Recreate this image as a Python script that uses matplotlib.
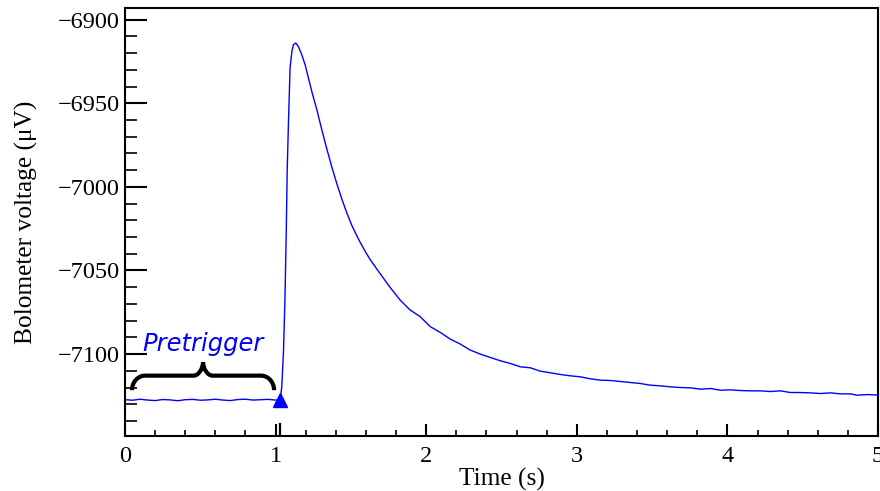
import matplotlib.pyplot as plt
from matplotlib.path import Path
from matplotlib.patches import PathPatch
from matplotlib.ticker import MultipleLocator
import matplotlib.transforms as mtransforms

# bolometer pulse, time in s, voltage in uV
time_s = [
    0.00, 0.05, 0.10, 0.15, 0.20, 0.25, 0.30, 0.35, 0.40, 0.45,
    0.50, 0.55, 0.60, 0.65, 0.70, 0.75, 0.80, 0.85, 0.90, 0.95,
    1.00, 1.030, 1.041, 1.052, 1.062, 1.071, 1.077, 1.085, 1.096, 1.108,
    1.118, 1.134, 1.151, 1.174, 1.196, 1.218, 1.245, 1.274, 1.307, 1.340,
    1.373, 1.407, 1.440, 1.473, 1.506, 1.550, 1.595, 1.628, 1.683, 1.761,
    1.827, 1.894, 1.960, 2.027, 2.093, 2.159, 2.226, 2.292, 2.359, 2.425,
    2.492, 2.558, 2.625, 2.691, 2.757, 2.824, 2.890, 2.957, 3.023, 3.090,
    3.156, 3.223, 3.289, 3.355, 3.422, 3.488, 3.555, 3.621, 3.688, 3.754,
    3.821, 3.887, 3.953, 4.020, 4.086, 4.153, 4.219, 4.286, 4.352, 4.419,
    4.485, 4.551, 4.618, 4.684, 4.751, 4.817, 4.862, 4.928, 5.000,
]
voltage_uv = [
    -7127.3, -7127.6, -7127.0, -7127.5, -7127.8, -7127.2, -7127.4, -7127.9, -7127.3, -7127.1,
    -7127.6, -7127.4, -7127.0, -7127.5, -7127.8, -7127.2, -7127.0, -7127.5, -7127.3, -7127.1,
    -7127.5, -7127.6, -7119.6, -7099.4, -7067.7, -7025.7, -6990.0, -6962.9, -6928.9, -6919.0,
    -6915.0, -6914.0, -6916.0, -6921.0, -6926.9, -6934.9, -6944.5, -6953.9, -6965.9, -6977.3,
    -6988.0, -6998.2, -7007.3, -7015.6, -7023.0, -7031.2, -7038.6, -7043.5, -7050.5, -7060.2,
    -7067.7, -7073.7, -7077.6, -7083.6, -7087.0, -7091.0, -7094.0, -7097.6, -7100.0, -7102.0,
    -7104.0, -7105.6, -7107.6, -7108.2, -7110.2, -7111.2, -7112.2, -7113.0, -7113.6, -7114.8,
    -7115.6, -7115.8, -7116.4, -7117.0, -7117.6, -7118.6, -7119.0, -7119.6, -7120.0, -7120.2,
    -7121.0, -7120.6, -7121.6, -7121.4, -7121.8, -7122.0, -7122.0, -7122.4, -7122.0, -7123.0,
    -7123.0, -7123.2, -7123.6, -7123.2, -7123.8, -7123.8, -7124.6, -7124.2, -7124.5,
]

trigger_time = 1.03
trigger_level = -7127.6
pretrigger_span = (0.0465, 0.990)

plt.rcParams['font.family'] = 'Liberation Serif'
plt.rcParams['font.size'] = 17.5

fig = plt.figure(figsize=(8.8, 4.91), dpi=100)
ax = fig.add_axes([125 / 880, 1 - 436 / 491, 753 / 880, 428 / 491])

ax.plot(time_s, voltage_uv, color='blue', lw=1.0)
ax.plot(trigger_time, trigger_level, marker='^', color='blue', markersize=10, clip_on=False)

# short mark on the time axis at the trigger
trans = mtransforms.blended_transform_factory(ax.transData, ax.transAxes)
ax.plot([trigger_time, trigger_time], [0, 12 / 428], color='black', lw=1.6, transform=trans)

# curly brace over the pretrigger window
x0, x1 = pretrigger_span
xc = 0.5 * (x0 + x1)
y_end, y_bar, y_tip = -7121.6, -7112.9, -7104.8
w1, w2 = 0.086, 0.063
k = 0.55
verts = [
    (x0, y_end), (x0, y_end + k * (y_bar - y_end)), (x0 + (1 - k) * w1, y_bar), (x0 + w1, y_bar),
    (xc - w2, y_bar),
    (xc - (1 - k) * w2, y_bar), (xc, y_bar + k * (y_tip - y_bar)), (xc, y_tip),
    (xc, y_bar + k * (y_tip - y_bar)), (xc + (1 - k) * w2, y_bar), (xc + w2, y_bar),
    (x1 - w1, y_bar),
    (x1 - (1 - k) * w1, y_bar), (x1, y_end + k * (y_bar - y_end)), (x1, y_end),
]
codes = [Path.MOVETO, Path.CURVE4, Path.CURVE4, Path.CURVE4,
         Path.LINETO,
         Path.CURVE4, Path.CURVE4, Path.CURVE4,
         Path.CURVE4, Path.CURVE4, Path.CURVE4,
         Path.LINETO,
         Path.CURVE4, Path.CURVE4, Path.CURVE4]
ax.add_patch(PathPatch(Path(verts, codes), facecolor='none', edgecolor='black',
                       lw=3, capstyle='butt', joinstyle='bevel'))
ax.text(xc, -7098.2, 'Pretrigger', color='blue', fontsize=17.5,
        family='DejaVu Sans', style='italic', ha='center', va='baseline')

ax.set_xlim(0, 5)
ax.set_ylim(-7149, -6893)
ax.xaxis.set_major_locator(MultipleLocator(1))
ax.xaxis.set_minor_locator(MultipleLocator(0.2))
ax.yaxis.set_major_locator(MultipleLocator(50))
ax.yaxis.set_minor_locator(MultipleLocator(10))
ax.tick_params(axis='both', which='both', direction='in', top=False, right=False)
ax.tick_params(axis='x', which='major', length=8.6, width=1.5, pad=7)
ax.tick_params(axis='x', which='minor', length=4.3, width=1.2)
ax.tick_params(axis='y', which='major', length=15.8, width=1.5, pad=4)
ax.tick_params(axis='y', which='minor', length=8.6, width=1.2)
for sp in ax.spines.values():
    sp.set_linewidth(1.5)

ax.set_xlabel('Time (s)', fontsize=18.3, labelpad=1)
ax.set_ylabel('Bolometer voltage (μV)', fontsize=18.3, labelpad=14)

fig.savefig('out.png', dpi=100)
